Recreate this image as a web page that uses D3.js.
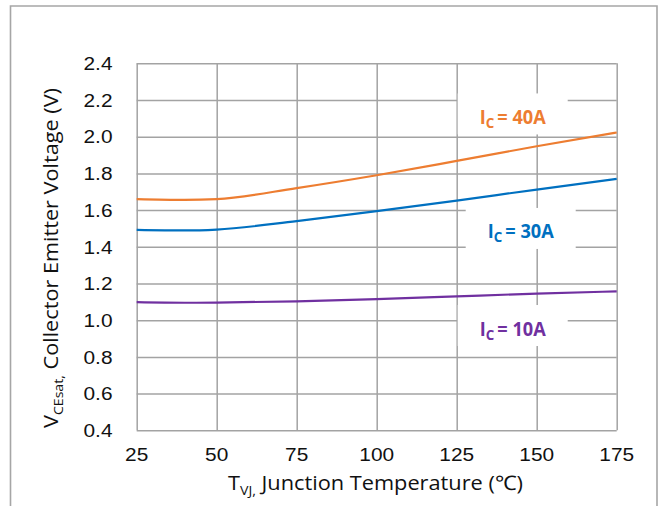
<!DOCTYPE html>
<html>
<head>
<meta charset="utf-8">
<script src="https://cdn.jsdelivr.net/npm/d3@7"></script>
<style>
html,body{margin:0;padding:0;background:#fff;}
svg{display:block;}
</style>
</head>
<body>
<svg id="chart" width="661" height="506"></svg>
<script>
// ---- data ----
const temps = [25, 40, 50, 75, 100, 125, 150, 175];
const vce40 = [1.660, 1.656, 1.660, 1.720, 1.790, 1.868, 1.948, 2.023];
const vce30 = [1.492, 1.489, 1.494, 1.540, 1.594, 1.652, 1.712, 1.770];
const vce10 = [1.098, 1.095, 1.096, 1.103, 1.115, 1.130, 1.145, 1.157];
const seriesNames = ["40A", "30A", "10A"];
const xTicks = [25, 50, 75, 100, 125, 150, 175];
const yTicks = [0.4, 0.6, 0.8, 1.0, 1.2, 1.4, 1.6, 1.8, 2.0, 2.2, 2.4];
// label anchors in data units (temperature, voltage)
const labelT = [142.5, 145, 142.5];
const labelV = [2.124, 1.5, 0.971];

const colors = ["#ED7D31", "#0070C0", "#7030A0"];
const seriesVals = [vce40, vce30, vce10];

const svg = d3.select("#chart");
const W = 661, H = 506;
const m = {left: 136.7, right: 616.7, top: 63.3, bottom: 430.3};

const x = d3.scaleLinear().domain([25, 175]).range([m.left, m.right]);
const y = d3.scaleLinear().domain([0.4, 2.4]).range([m.bottom, m.top]);

// outer frame
svg.append("path")
  .attr("d", `M10.5,${H+2} L10.5,6 L657,6 L657,${H+2}`)
  .attr("fill", "none").attr("stroke", "#a6a6a6").attr("stroke-width", 1.6);

const gridColor = "#a3a3a3";
svg.append("g")
  .attr("transform", `translate(0,${m.bottom})`)
  .call(d3.axisBottom(x).tickValues(xTicks).tickSize(-(m.bottom - m.top)).tickFormat(""))
  .call(g => g.select(".domain").remove())
  .call(g => g.selectAll("line").attr("stroke", gridColor).attr("stroke-width", 1.5));
svg.append("g")
  .attr("transform", `translate(${m.left},0)`)
  .call(d3.axisLeft(y).tickValues(yTicks).tickSize(-(m.right - m.left)).tickFormat(""))
  .call(g => g.select(".domain").remove())
  .call(g => g.selectAll("line").attr("stroke", gridColor).attr("stroke-width", 1.5));

const tickFont = "'Liberation Sans', Arial, sans-serif";
const stretch = function() {
  const w = this.getComputedTextLength();
  d3.select(this).attr("textLength", w * 1.11).attr("lengthAdjust", "spacingAndGlyphs");
};
svg.append("g").selectAll("text").data(yTicks).join("text")
  .attr("x", 112.5).attr("y", d => y(d)).attr("dy", "0.36em")
  .attr("text-anchor", "end")
  .style("font-family", tickFont)
  .attr("font-size", 18.8).attr("fill", "#111")
  .text(d => d.toFixed(1))
  .each(stretch);
svg.append("g").selectAll("text").data(xTicks).join("text")
  .attr("x", d => x(d)).attr("y", m.bottom + 24).attr("dy", "0.36em")
  .attr("text-anchor", "middle")
  .style("font-family", tickFont)
  .attr("font-size", 18.8).attr("fill", "#111")
  .text(d => d)
  .each(stretch);

// label boxes (white, hide gridlines)
const boxW = 110, boxH = 41;
svg.append("g").selectAll("rect").data(seriesNames).join("rect")
  .attr("x", (d, i) => x(labelT[i]) - boxW / 2)
  .attr("y", (d, i) => y(labelV[i]) - boxH / 2)
  .attr("width", boxW).attr("height", boxH)
  .attr("fill", "#fff");

// curves
const line = d3.line().x(d => x(d[0])).y(d => y(d[1])).curve(d3.curveMonotoneX);
svg.append("g").selectAll("path").data(seriesVals).join("path")
  .attr("d", vals => line(temps.map((t, j) => [t, vals[j]])))
  .attr("fill", "none")
  .attr("stroke", (d, i) => colors[i])
  .attr("stroke-width", 2.2);

// series labels
seriesNames.forEach((name, i) => {
  const t = svg.append("text")
    .attr("x", x(labelT[i])).attr("y", y(labelV[i]) + 10)
    .attr("text-anchor", "middle")
    .style("font-family", "'Open Sans', sans-serif")
    .attr("font-weight", "bold")
    .attr("font-size", 19)
    .attr("textLength", 66).attr("lengthAdjust", "spacingAndGlyphs")
    .attr("fill", colors[i]);
  t.append("tspan").text("I");
  t.append("tspan").attr("font-size", 14).attr("dy", 4).text("C");
  t.append("tspan").attr("dy", -4).text("\u2009= " + name);
});

// x axis title
const xt = svg.append("text")
  .attr("x", 375.5).attr("y", 490)
  .attr("text-anchor", "middle")
  .style("font-family", "'Open Sans', sans-serif")
  .attr("font-size", 20).attr("fill", "#111")
  .attr("textLength", 295).attr("lengthAdjust", "spacingAndGlyphs");
xt.append("tspan").text("T");
xt.append("tspan").attr("font-size", 13).attr("dy", 5).text("VJ,");
xt.append("tspan").attr("dy", -5).text(" Junction Temperature (\u2103)");

// y axis title
const yt = svg.append("text")
  .attr("transform", `translate(58,${(88 + 428) / 2}) rotate(-90)`)
  .attr("text-anchor", "middle")
  .style("font-family", "'Open Sans', sans-serif")
  .attr("font-size", 20).attr("fill", "#111")
  .attr("textLength", 340).attr("lengthAdjust", "spacingAndGlyphs");
yt.append("tspan").text("V");
yt.append("tspan").attr("font-size", 13).attr("dy", 5).text("CEsat,");
yt.append("tspan").attr("dy", -5).text("  Collector Emitter Voltage (V)");
</script>
</body>
</html>
